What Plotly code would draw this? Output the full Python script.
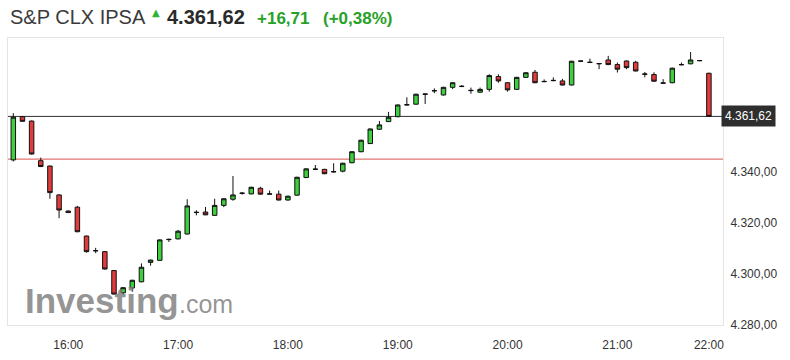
import plotly.graph_objects as go

# ---------------- data ----------------
TIMES = ["15:30", "15:35", "15:40", "15:45", "15:50", "15:55",
         "16:00", "16:05", "16:10", "16:15", "16:20", "16:25", "16:30", "16:35", "16:40", "16:45", "16:50", "16:55",
         "17:00", "17:05", "17:10", "17:15", "17:20", "17:25", "17:30", "17:35", "17:40", "17:45", "17:50", "17:55",
         "18:00", "18:05", "18:10", "18:15", "18:20", "18:25", "18:30", "18:35", "18:40", "18:45", "18:50", "18:55",
         "19:00", "19:05", "19:10", "19:15", "19:20", "19:25", "19:30", "19:35", "19:40", "19:45", "19:50", "19:55",
         "20:00", "20:05", "20:10", "20:15", "20:20", "20:25", "20:30", "20:35", "20:40", "20:45", "20:50", "20:55",
         "21:00", "21:05", "21:10", "21:15", "21:20", "21:25", "21:30", "21:35", "21:40", "21:45",
         "22:00"]

OPEN = [4344.6, 4361.5, 4359.8, 4344.3, 4342.2, 4330.9,
        4324.6, 4326.1, 4314.8, 4309.0, 4308.7, 4301.3, 4292.6, 4294.5, 4296.9, 4304.5, 4305.3, 4313.4,
        4313.7, 4315.6, 4324.0, 4324.2, 4322.9, 4326.8, 4329.2, 4331.5, 4331.3, 4333.5, 4331.2, 4331.2,
        4328.9, 4330.8, 4337.7, 4340.9, 4340.9, 4339.9, 4340.2, 4343.5, 4347.8, 4351.0, 4356.6, 4359.6,
        4361.5, 4366.1, 4366.4, 4370.4, 4371.6, 4370.0, 4373.0, 4373.3, 4371.7, 4371.1, 4372.2, 4377.2,
        4374.8, 4372.2, 4376.9, 4378.9, 4375.2, 4375.6, 4375.5, 4373.9, 4383.2, 4382.7, 4382.2, 4383.7,
        4381.9, 4383.3, 4382.8, 4378.1, 4378.0, 4374.6, 4374.8, 4381.8, 4382.2, 4383.4,
        4378.5]

HIGH = [4362.9, 4361.8, 4360.0, 4345.5, 4342.4, 4331.1,
        4324.8, 4326.6, 4315.0, 4310.2, 4308.9, 4301.5, 4294.8, 4297.7, 4304.1, 4305.6, 4313.5, 4313.8,
        4317.2, 4329.2, 4324.9, 4326.2, 4329.4, 4329.6, 4338.3, 4332.0, 4334.1, 4334.1, 4332.6, 4332.6,
        4330.6, 4338.0, 4341.3, 4342.6, 4341.1, 4343.3, 4343.5, 4348.0, 4352.5, 4356.9, 4359.8, 4363.4,
        4366.3, 4369.1, 4370.5, 4370.6, 4372.6, 4373.2, 4375.0, 4373.9, 4372.9, 4372.9, 4378.1, 4378.1,
        4375.0, 4377.1, 4378.9, 4379.8, 4376.1, 4376.9, 4376.3, 4383.4, 4383.4, 4384.2, 4382.4, 4385.3,
        4382.7, 4383.5, 4383.4, 4379.0, 4378.9, 4376.2, 4380.7, 4382.7, 4386.8, 4383.6,
        4378.7]

LOW = [4344.0, 4359.5, 4346.7, 4341.8, 4329.4, 4321.8,
       4323.8, 4316.3, 4308.3, 4308.1, 4301.7, 4291.9, 4292.0, 4293.0, 4296.7, 4303.2, 4305.1, 4312.5,
       4313.5, 4315.4, 4322.9, 4323.0, 4322.7, 4326.1, 4328.6, 4331.0, 4331.1, 4331.0, 4331.0, 4328.7,
       4328.7, 4330.6, 4337.5, 4340.7, 4339.0, 4339.7, 4339.7, 4343.3, 4347.6, 4350.8, 4356.4, 4359.4,
       4361.3, 4365.9, 4366.2, 4366.5, 4370.7, 4369.8, 4372.3, 4373.1, 4370.5, 4370.9, 4371.3, 4374.8,
       4371.3, 4372.0, 4376.7, 4374.6, 4375.0, 4375.4, 4373.7, 4373.7, 4383.0, 4382.5, 4380.1, 4381.7,
       4378.8, 4380.1, 4379.2, 4376.9, 4375.2, 4374.4, 4374.6, 4381.6, 4382.0, 4383.2,
       4361.4]

CLOSE = [4361.3, 4359.7, 4346.9, 4342.0, 4331.8, 4325.0,
         4324.0, 4316.5, 4308.7, 4309.1, 4301.9, 4292.1, 4294.6, 4297.5, 4302.6, 4305.4, 4313.3, 4313.5,
         4316.7, 4326.6, 4324.1, 4323.1, 4326.8, 4329.4, 4330.9, 4331.6, 4333.9, 4331.2, 4331.3, 4328.9,
         4330.4, 4337.8, 4341.1, 4341.0, 4339.2, 4340.0, 4343.3, 4347.8, 4352.3, 4356.7, 4358.3, 4361.3,
         4366.1, 4366.2, 4370.3, 4370.3, 4371.7, 4373.0, 4374.8, 4373.4, 4371.8, 4372.2, 4377.6, 4375.5,
         4372.0, 4376.9, 4378.7, 4374.8, 4375.3, 4375.7, 4373.9, 4383.2, 4383.3, 4382.8, 4382.3, 4381.9,
         4380.1, 4380.7, 4379.4, 4378.2, 4375.4, 4374.7, 4380.5, 4381.9, 4383.7, 4383.5,
         4361.62]

X_TICKS = ["16:00", "17:00", "18:00", "19:00", "20:00", "21:00", "22:00"]
Y_TICKS = [4280, 4300, 4320, 4340]

NAME = "S&amp;P CLX IPSA"
LAST_PRICE = 4361.62
CHANGE = 16.71
CHANGE_PCT = 0.38
PREV_CLOSE = LAST_PRICE - CHANGE

# ---------------- layout constants ----------------
W, H = 790, 360
ML, MR, MT, MB = 8, 67, 38, 35
PW, PH = W - ML - MR, H - MT - MB
FONT = "Arial, Liberation Sans, sans-serif"
GREEN = "#3fce3f"
RED = "#e23b3b"
HEAD_GREEN = "#27a127"
WATERMARK = "rgba(125,125,125,0.82)"


def fmt(v, dec=2):
    s = f"{v:,.{dec}f}"
    return s.replace(",", "X").replace(".", ",").replace("X", ".")


def px(x):
    return (x - ML) / PW


def py(y):
    return (H - MB - y) / PH


fig = go.Figure()

fig.add_trace(go.Candlestick(
    x=TIMES, open=OPEN, high=HIGH, low=LOW, close=CLOSE,
    increasing=dict(line=dict(color="#111111", width=1), fillcolor=GREEN),
    decreasing=dict(line=dict(color="#111111", width=1), fillcolor=RED),
    whiskerwidth=0, showlegend=False, hoverinfo="skip",
))

shapes = [
    dict(type="line", xref="paper", yref="y", x0=0, x1=1, y0=PREV_CLOSE, y1=PREV_CLOSE,
         line=dict(color="#d9534f", width=1), layer="below"),
    dict(type="line", xref="paper", yref="y", x0=0, x1=1, y0=LAST_PRICE, y1=LAST_PRICE,
         line=dict(color="#333333", width=1), layer="below"),
]

annotations = [
    # watermark
    dict(xref="paper", yref="paper", x=px(24), y=py(313), xanchor="left", yanchor="bottom",
         text="<b>Investing</b>", showarrow=False, borderpad=0,
         font=dict(family=FONT, size=35, color=WATERMARK), yshift=-8),
    dict(xref="paper", yref="paper", x=px(178), y=py(313), xanchor="left", yanchor="bottom",
         text=".com", showarrow=False, borderpad=0,
         font=dict(family=FONT, size=25, color=WATERMARK), yshift=-6),
    # header
    dict(xref="paper", yref="paper", x=px(9), y=py(17), xanchor="left", yanchor="middle",
         text=NAME, showarrow=False, borderpad=0,
         font=dict(family=FONT, size=20, color="#3a3a3a")),
    dict(xref="paper", yref="paper", x=px(156), y=py(12), xanchor="center", yanchor="middle",
         text="▲", showarrow=False, borderpad=0,
         font=dict(family="DejaVu Sans", size=10, color="#2fb52f")),
    dict(xref="paper", yref="paper", x=px(166), y=py(17), xanchor="left", yanchor="middle",
         text="<b>" + fmt(LAST_PRICE) + "</b>", showarrow=False, borderpad=0,
         font=dict(family=FONT, size=20, color="#2a2a2a")),
    dict(xref="paper", yref="paper", x=px(256), y=py(18.5), xanchor="left", yanchor="middle",
         text="<b>+" + fmt(CHANGE) + "</b>", showarrow=False, borderpad=0,
         font=dict(family=FONT, size=17, color=HEAD_GREEN)),
    dict(xref="paper", yref="paper", x=px(322), y=py(18.5), xanchor="left", yanchor="middle",
         text="<b>(+" + fmt(CHANGE_PCT) + "%)</b>", showarrow=False, borderpad=0,
         font=dict(family=FONT, size=17, color=HEAD_GREEN)),
    # current price tag
    dict(xref="paper", yref="y", x=1, y=LAST_PRICE, xanchor="left", yanchor="middle", xshift=-2,
         text=fmt(LAST_PRICE), showarrow=False, bgcolor="#2e2e2e", borderpad=3,
         font=dict(family=FONT, size=12, color="#ffffff")),
]

n = len(TIMES)
fig.update_layout(
    width=W, height=H,
    margin=dict(l=ML, r=MR, t=MT, b=MB),
    paper_bgcolor="white", plot_bgcolor="white",
    separators=",.",
    font=dict(family=FONT, size=12, color="#333333"),
    shapes=shapes, annotations=annotations,
    boxgap=0.3,
    xaxis=dict(
        type="category", categoryorder="array", categoryarray=TIMES,
        range=[-0.58, n + 0.54],
        tickmode="array", tickvals=X_TICKS, ticktext=X_TICKS,
        ticks="outside", ticklen=9, tickcolor="rgba(0,0,0,0)",
        showgrid=False, zeroline=False,
        showline=True, mirror=True, linecolor="#e4e4e4", linewidth=1,
        rangeslider=dict(visible=False), fixedrange=True,
        tickfont=dict(family=FONT, size=12, color="#333333"),
    ),
    yaxis=dict(
        side="right", range=[4280, 4392.3],
        tickmode="array", tickvals=Y_TICKS, tickformat=",.2f",
        ticks="outside", ticklen=4, tickcolor="rgba(0,0,0,0)",
        showgrid=False, zeroline=False,
        showline=True, mirror=True, linecolor="#e4e4e4", linewidth=1,
        fixedrange=True,
        tickfont=dict(family=FONT, size=12, color="#333333"),
    ),
)

fig.write_html("out.html")
